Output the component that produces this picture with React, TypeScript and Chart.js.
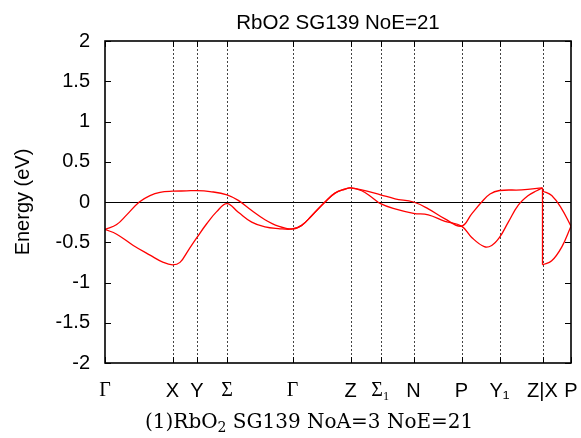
import React, { useEffect, useRef } from "react";
import { Chart, registerables } from "chart.js";

Chart.register(...registerables);

// High-symmetry path (tick positions in path-length units) and labels
const kTicks = [0, 67.5, 92, 122, 187.5, 245.5, 275.5, 308.5, 356.5, 394.5, 437.5, 466];
const kLabels = ["Γ", "X", "Y", "Σ", "Γ", "Z", "Σ₁", "N", "P", "Y₁", "Z|X", "P"];
const serifLabels = ["Γ", "Σ", "Σ₁"];

// Lower band, Γ → … → Z
const lowerK = [0, 11.7, 28.3, 45, 58.3, 67.5, 75, 83.3, 92, 101.7, 111.7, 122, 133.3, 146.7, 160, 173.3, 187.5,
  196.7, 206.7, 220, 230, 240, 245.5, 256.7, 266.7, 275.5, 290, 308.5, 323.3, 340, 356.5, 366.7, 379.3, 386.7,
  394.5, 403.3, 413.3, 423.3, 431.7, 437.5];
const lowerE = [-0.34, -0.40, -0.54, -0.66, -0.75, -0.78, -0.75, -0.60, -0.44, -0.27, -0.12, -0.02, -0.127, -0.25,
  -0.31, -0.33, -0.335, -0.29, -0.17, 0, 0.11, 0.16, 0.175, 0.14, 0.06, -0.02, -0.085, -0.14, -0.16, -0.24, -0.30,
  -0.44, -0.555, -0.54, -0.44, -0.25, -0.04, 0.08, 0.14, 0.175];
// Lower band, X → P
const lowerTailK = [437.5, 446.7, 456.7, 466];
const lowerTailE = [-0.78, -0.73, -0.56, -0.30];

// Upper band, Γ → … → Z
const upperK = [0, 11.7, 21.7, 34.3, 45, 55, 67.5, 81.7, 92, 105, 122, 133.3, 146.7, 160, 173.3, 187.5, 196.7,
  206.7, 220, 230, 240, 245.5, 256.7, 275.5, 290, 308.5, 323.3, 340, 356.5, 366.7, 376.7, 385, 394.5, 416.7, 437.5];
const upperE = [-0.34, -0.28, -0.16, 0, 0.08, 0.12, 0.134, 0.138, 0.142, 0.13, 0.09, 0.02, -0.105, -0.22, -0.30,
  -0.335, -0.29, -0.17, 0, 0.11, 0.16, 0.175, 0.15, 0.09, 0.04, 0, -0.085, -0.21, -0.30, -0.147, 0, 0.10, 0.143,
  0.15, 0.175];
// Upper band, X → P
const upperTailK = [437.5, 446.7, 456.7, 466];
const upperTailE = [0.137, 0.08, -0.085, -0.30];

// Jump at Z|X
const jumpK = [437.5, 437.5];
const jumpE = [0.175, -0.78];

const yMin = -2;
const yMax = 2;
const yStep = 0.5;

const titleText = "RbO2 SG139 NoE=21";
const sansFamily = "'Liberation Sans', Arial, sans-serif";
const serifFamily = "'Liberation Serif', 'DejaVu Serif', serif";

const toPoints = (ks: number[], es: number[]) => ks.map((k, i) => ({ x: k, y: es[i] }));

const framePlugin = {
  id: "gnuFrame",
  beforeDatasetsDraw(chart: any) {
    const { ctx, chartArea: a, scales } = chart;
    const xs = scales.x;
    const ys = scales.y;
    ctx.save();
    ctx.strokeStyle = "#444";
    ctx.lineWidth = 1;
    ctx.setLineDash([2, 2]);
    xs.ticks.forEach((t: any, i: number) => {
      if (i === 0 || i === xs.ticks.length - 1) return;
      const px = Math.round(xs.getPixelForValue(t.value)) + 0.5;
      ctx.beginPath();
      ctx.moveTo(px, a.top);
      ctx.lineTo(px, a.bottom);
      ctx.stroke();
    });
    ctx.setLineDash([]);
    const py0 = Math.round(ys.getPixelForValue(0)) + 0.5;
    ctx.strokeStyle = "#000";
    ctx.beginPath();
    ctx.moveTo(a.left, py0);
    ctx.lineTo(a.right, py0);
    ctx.stroke();
    ctx.restore();
  },
  afterDatasetsDraw(chart: any) {
    const { ctx, chartArea: a, scales } = chart;
    const xs = scales.x;
    const ys = scales.y;
    ctx.save();
    ctx.strokeStyle = "#000";
    ctx.lineWidth = 1;
    const len = 6;
    ys.ticks.forEach((t: any) => {
      const py = Math.round(ys.getPixelForValue(t.value)) + 0.5;
      ctx.beginPath();
      ctx.moveTo(a.left, py);
      ctx.lineTo(a.left + len, py);
      ctx.moveTo(a.right - len, py);
      ctx.lineTo(a.right, py);
      ctx.stroke();
    });
    xs.ticks.forEach((t: any) => {
      const px = Math.round(xs.getPixelForValue(t.value)) + 0.5;
      ctx.beginPath();
      ctx.moveTo(px, a.bottom);
      ctx.lineTo(px, a.bottom - len);
      ctx.moveTo(px, a.top);
      ctx.lineTo(px, a.top + len);
      ctx.stroke();
    });
    ctx.lineWidth = 1.6;
    ctx.strokeRect(a.left, a.top, a.right - a.left, a.bottom - a.top);
    // title centred over the plot area
    ctx.fillStyle = "#000";
    ctx.font = `20.5px ${sansFamily}`;
    ctx.textAlign = "center";
    ctx.textBaseline = "alphabetic";
    ctx.fillText(titleText, (a.left + a.right) / 2, 29);
    ctx.restore();
  },
};

function BandChart() {
  const ref = useRef<HTMLCanvasElement | null>(null);
  useEffect(() => {
    if (!ref.current) return;
    const lineStyle = {
      borderColor: "#ff0000",
      borderWidth: 1.3,
      pointRadius: 0,
      fill: false,
      tension: 0.4,
    };
    const chart = new Chart(ref.current, {
      type: "line",
      data: {
        datasets: [
          { ...lineStyle, data: toPoints(lowerK, lowerE) },
          { ...lineStyle, data: toPoints(lowerTailK, lowerTailE) },
          { ...lineStyle, data: toPoints(upperK, upperE) },
          { ...lineStyle, data: toPoints(upperTailK, upperTailE) },
          { ...lineStyle, tension: 0, data: toPoints(jumpK, jumpE) },
        ],
      },
      options: {
        animation: false,
        responsive: false,
        events: [],
        layout: { padding: { left: 0, right: 10, top: 41, bottom: 0 } },
        plugins: {
          legend: { display: false },
          tooltip: { enabled: false },
          title: { display: false },
        },
        scales: {
          x: {
            type: "linear",
            min: kTicks[0],
            max: kTicks[kTicks.length - 1],
            afterBuildTicks: (scale: any) => {
              scale.ticks = kTicks.map((v) => ({ value: v }));
            },
            afterFit: (scale: any) => {
              scale.height = 75;
              scale.paddingLeft = 0;
              scale.paddingRight = 0;
            },
            grid: { display: false, drawTicks: false },
            border: { display: false },
            ticks: {
              autoSkip: false,
              maxRotation: 0,
              padding: 16,
              color: "#000",
              callback: (_v: any, i: number) => kLabels[i],
              font: (ctx: any) => {
                const lab = kLabels[ctx.index];
                return { family: serifLabels.includes(lab) ? serifFamily : sansFamily, size: 20 };
              },
            },
          },
          y: {
            min: yMin,
            max: yMax,
            afterFit: (scale: any) => {
              scale.width = 105;
              scale.paddingTop = 0;
              scale.paddingBottom = 0;
            },
            grid: { display: false, drawTicks: false },
            border: { display: false },
            ticks: {
              stepSize: yStep,
              padding: 15,
              color: "#000",
              callback: (v: any) => String(Number(v)),
              font: { family: sansFamily, size: 20 },
            },
            title: {
              display: true,
              text: "Energy (eV)",
              color: "#000",
              font: { family: sansFamily, size: 20, lineHeight: 1.2 },
              padding: { top: 11, bottom: 0 },
            },
          },
        },
      },
      plugins: [framePlugin],
    });
    return () => chart.destroy();
  }, []);
  return <canvas ref={ref} width={581} height={438} style={{ display: "block" }} />;
}

export default function App() {
  return (
    <div style={{ position: "absolute", left: 0, top: 0, width: 581, height: 438, background: "#fff" }}>
      <BandChart />
      <div
        style={{
          position: "absolute",
          left: 145,
          top: 411,
          fontFamily: "'DejaVu Serif', serif",
          fontSize: 20,
          lineHeight: "20px",
          whiteSpace: "nowrap",
          color: "#000",
        }}
      >
        (1)RbO<span style={{ fontSize: "0.7em", verticalAlign: "-0.25em" }}>2</span> SG139 NoA=3 NoE=21
      </div>
    </div>
  );
}
